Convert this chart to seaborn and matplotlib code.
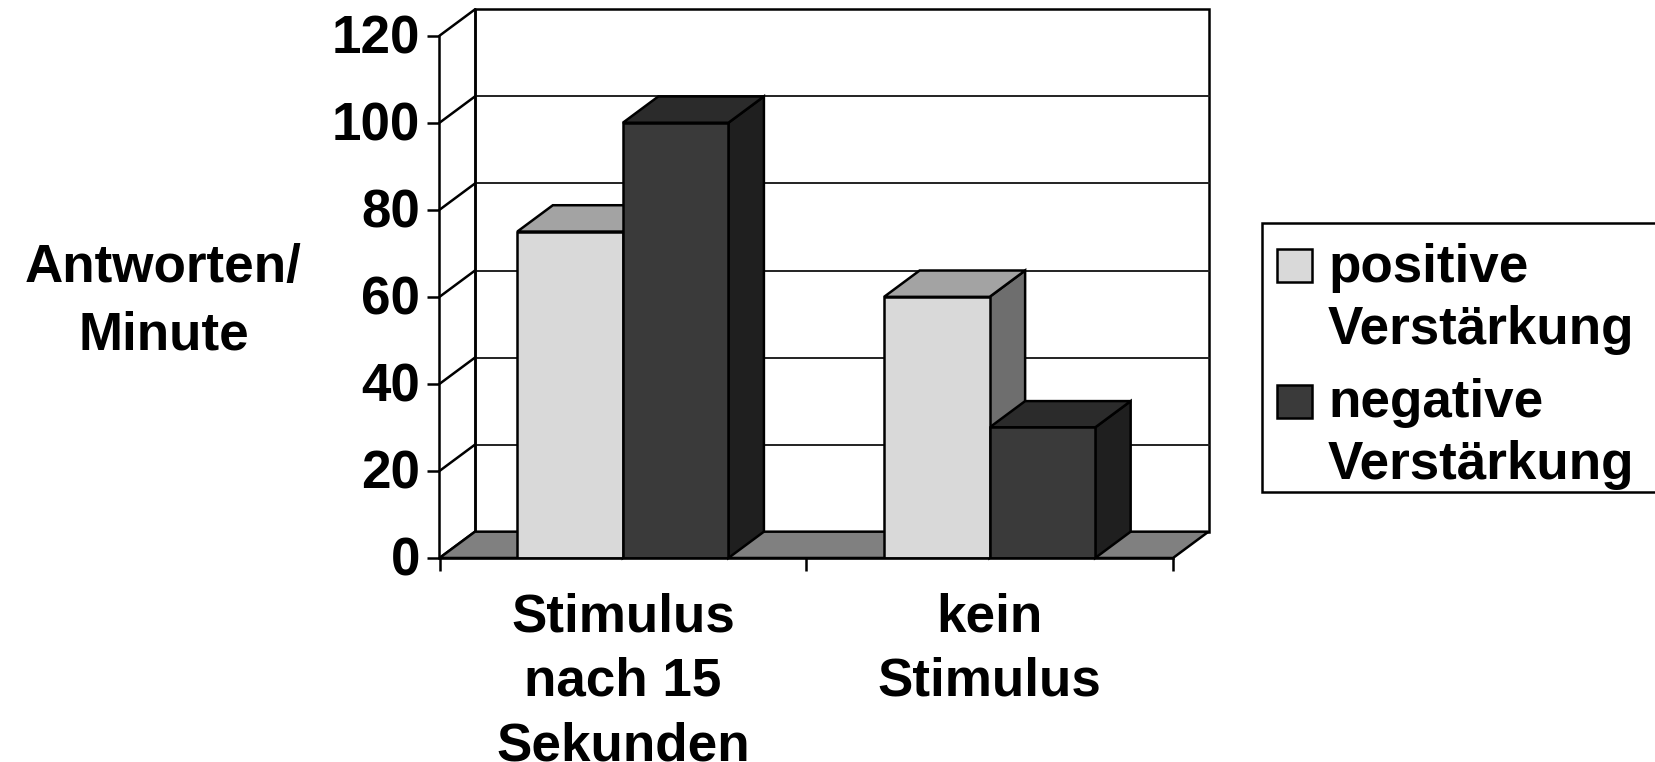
#!/usr/bin/env python3

import matplotlib
matplotlib.use("Agg")
import matplotlib.pyplot as plt
from matplotlib.legend_handler import HandlerPatch
from matplotlib.patches import Polygon, Rectangle
from matplotlib.transforms import ScaledTranslation
import pandas as pd
import seaborn as sns

# Data
conditions = ["Stimulus\nnach 15\nSekunden", "kein\nStimulus"]
positive = [75, 60]
negative = [100, 30]
series_names = ["positive\nVerstärkung", "negative\nVerstärkung"]
y_ticks = [0, 20, 40, 60, 80, 100, 120]
y_title = "Antworten/\nMinute"

W, H = 1655, 762
FONT_PX = 53
FONT_PT = FONT_PX * 72 / 100
LW = 1.8

# fake 3D look: shift of the back plane, in data units
DX = 0.0968
DY = 6.05

front_colors = ["#D9D9D9", "#3A3A3A"]
top_colors = ["#A3A3A3", "#2B2B2B"]
side_colors = ["#6E6E6E", "#1F1F1F"]
floor_color = "#808080"

sns.set_theme(style="white")
plt.rcParams["font.family"] = ["Liberation Sans", "DejaVu Sans"]

df = pd.DataFrame({
    "condition": conditions * 2,
    "rate": positive + negative,
    "series": [series_names[0]] * 2 + [series_names[1]] * 2,
})

fig = plt.figure(figsize=(W / 100, H / 100), dpi=100, facecolor="white")
ax = fig.add_axes([439.5 / W, 1 - 558 / H, 733.5 / W, 522.3 / H])

sns.barplot(data=df, x="condition", y="rate", hue="series", palette=front_colors,
            width=0.5755, gap=0, edgecolor="black", linewidth=LW, saturation=1,
            legend=True, ax=ax)

ax.set_xlim(-0.5, 1.5)
ax.set_ylim(0, 120)
x0, x1 = ax.get_xlim()
y_top = y_ticks[-1]


def poly(points, **kw):
    ax.add_patch(Polygon(points, closed=True, clip_on=False, **kw))


# back wall with its grid, and the floor
poly([(x0 + DX, DY), (x1 + DX, DY), (x1 + DX, y_top + DY), (x0 + DX, y_top + DY)],
     facecolor="white", edgecolor="black", linewidth=LW, zorder=0.5)
for v in y_ticks[1:-1]:
    ax.plot([x0 + DX, x1 + DX], [v + DY, v + DY], color="#222222", lw=1.4,
            clip_on=False, zorder=0.6)
for v in y_ticks:
    ax.plot([x0, x0 + DX], [v, v + DY], color="black", lw=LW, clip_on=False, zorder=0.7)
ax.plot([x0 + DX, x0 + DX], [DY, y_top + DY], color="black", lw=LW, clip_on=False, zorder=0.7)
poly([(x0, 0), (x1, 0), (x1 + DX, DY), (x0 + DX, DY)],
     facecolor=floor_color, edgecolor="black", linewidth=LW, zorder=0.8)

# side and top faces come from the bars seaborn drew
for i, container in enumerate(ax.containers):
    for bar in container:
        left = bar.get_x()
        right = left + bar.get_width()
        h = bar.get_height()
        z = 1 + i
        poly([(right, 0), (right + DX, DY), (right + DX, h + DY), (right, h)],
             facecolor=side_colors[i], edgecolor="black", linewidth=LW, zorder=z)
        poly([(left, h), (right, h), (right + DX, h + DY), (left + DX, h + DY)],
             facecolor=top_colors[i], edgecolor="black", linewidth=LW, zorder=z)
        bar.set_zorder(5)

# axes, ticks
sns.despine(ax=ax, top=True, right=True)
for name in ["left", "bottom"]:
    ax.spines[name].set_linewidth(LW)
    ax.spines[name].set_color("black")
    ax.spines[name].set_zorder(6)

ax.set_yticks(y_ticks)
ax.tick_params(axis="y", left=True, length=9, width=LW, color="black", pad=5,
               labelsize=FONT_PT, labelcolor="black")
for t in ax.get_yticklabels():
    t.set_fontweight("bold")
    t.set_transform(t.get_transform() + ScaledTranslation(0, 2 / 100, fig.dpi_scale_trans))

ax.set_xticks([0, 1])
ax.set_xticklabels(conditions)
ax.set_xticks([-0.5, 0.5, 1.5], minor=True)
ax.tick_params(axis="x", which="major", bottom=False, pad=18.5, labelsize=FONT_PT,
               labelcolor="black")
ax.tick_params(axis="x", which="minor", bottom=True, length=9, width=LW, color="black")
for t in ax.get_xticklabels():
    t.set_fontweight("bold")
    t.set_linespacing(1.38)

ax.set_xlabel("")
ax.set_ylabel(y_title, rotation=0, fontsize=FONT_PT, fontweight="bold", color="black",
              ha="center", va="center", linespacing=1.44)
ax.yaxis.set_label_coords((163.6 - 439.5) / 733.5, 0.49)

# legend frame runs off the right edge like in the original
ax.add_patch(Rectangle((1261.7 / W, 1 - 492 / H), 500 / W, 269.3 / H,
                       transform=fig.transFigure, facecolor="white", edgecolor="black",
                       linewidth=LW, clip_on=False, zorder=0.4))


def swatch(legend, orig_handle, xdescent, ydescent, width, height, fontsize):
    # box sits beside the first line of the two line label
    return Rectangle((-xdescent, -ydescent + 24.5), width, height)


handles, labels = ax.get_legend_handles_labels()
leg = ax.legend(handles, labels, loc="upper left", frameon=False, prop={"size": FONT_PT, "weight": "bold"},
                bbox_to_anchor=(1277 / W, 1 - 243 / H), bbox_transform=fig.transFigure,
                borderpad=0, borderaxespad=0, handlelength=35 / FONT_PX,
                handleheight=31 / FONT_PX, handletextpad=16 / FONT_PX, labelspacing=0.44,
                handler_map={h: HandlerPatch(patch_func=swatch) for h in handles})
leg.set_zorder(7)
for t in leg.get_texts():
    t.set_linespacing(1.31)
    t.set_color("black")
for h in leg.legend_handles:
    h.set_edgecolor("black")
    h.set_linewidth(LW)

fig.savefig("out.png", dpi=100)
